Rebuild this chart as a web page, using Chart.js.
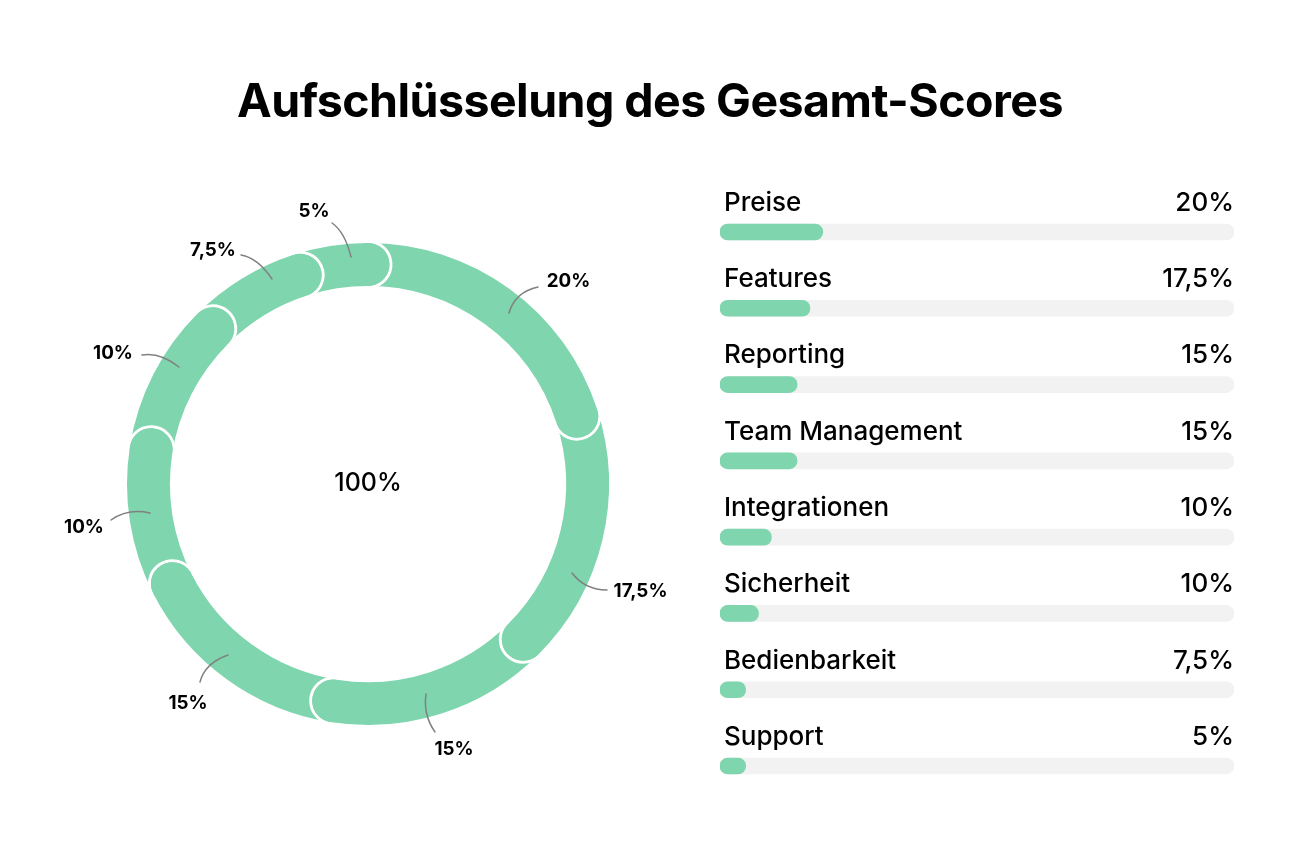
<!DOCTYPE html>
<html lang="de">
<head>
<meta charset="utf-8">
<title>Aufschlüsselung des Gesamt-Scores</title>
<script src="https://cdn.jsdelivr.net/npm/chart.js@4"></script>
<style>
html,body{margin:0;padding:0;background:#fff;width:1300px;height:850px;overflow:hidden}
#wrapRing{position:absolute;left:0;top:0;width:736px;height:850px}
#wrapBars{position:absolute;left:66px;top:0;width:1168px;height:850px}
</style>
</head>
<body>
<div id="wrapRing"><canvas id="ring"></canvas></div>
<div id="wrapBars"><canvas id="bars"></canvas></div>
<script>
const titleText = 'Aufschlüsselung des Gesamt-Scores';
const centerText = '100%';
const categories = ['Preise','Features','Reporting','Team Management','Integrationen','Sicherheit','Bedienbarkeit','Support'];
const ringValues = [20,17.5,15,15,10,10,7.5,5];
const valueLabels = ['20%','17,5%','15%','15%','10%','10%','7,5%','5%'];
const barValues = [20,17.5,15,15,10,7.5,5,5];
const trackValues = [100,100,100,100,100,100,100,100];

const GREEN = '#7fd5ae', TRACK = '#f2f2f2', INK = '#000000';
const FONT = 'Inter, "Noto Sans", sans-serif';

/* leader-line layout, relative to the ring centre */
const leaderLayout = [
  {label:[200.5,-203], from:[170,-197], ctrl:[147,-192], to:[141,-171]},
  {label:[272.5,107],  from:[239,106],  ctrl:[217,106],  to:[204,89]},
  {label:[86,265],     from:[67,248],   ctrl:[55,231],   to:[58,210]},
  {label:[-180,219],   from:[-168,198], ctrl:[-163,179], to:[-140,171]},
  {label:[-284,43],    from:[-257,36],  ctrl:[-240,24],  to:[-218,29]},
  {label:[-255,-131],  from:[-226,-129],ctrl:[-208,-132],to:[-189,-117]},
  {label:[-155,-234],  from:[-127,-229],ctrl:[-110,-226],to:[-96,-205]},
  {label:[-54,-273],   from:[-36,-261], ctrl:[-23,-252], to:[-17,-227]}
];

const ringCaps = {
  id:'ringCaps',
  afterDatasetsDraw(chart){
    const ctx = chart.ctx;
    const arcs = chart.getDatasetMeta(0).data;
    arcs.forEach(a=>{
      const p = a.getProps(['x','y','endAngle','innerRadius','outerRadius'],true);
      const mid = (p.innerRadius+p.outerRadius)/2, rad = (p.outerRadius-p.innerRadius)/2;
      const cx = p.x+mid*Math.cos(p.endAngle), cy = p.y+mid*Math.sin(p.endAngle);
      ctx.save();
      ctx.beginPath();
      ctx.arc(cx,cy,rad+1.5,p.endAngle-0.1,p.endAngle+Math.PI+0.1);
      ctx.strokeStyle='#ffffff';ctx.lineWidth=3;ctx.stroke();
      ctx.beginPath();
      ctx.arc(cx,cy,rad,0,Math.PI*2);
      ctx.fillStyle=GREEN;ctx.fill();
      ctx.restore();
    });
  }
};

const ringLabels = {
  id:'ringLabels',
  afterDraw(chart){
    const ctx = chart.ctx;
    const arcs = chart.getDatasetMeta(0).data;
    const x0 = arcs[0].x, y0 = arcs[0].y;
    ctx.save();
    ctx.lineCap='round';
    leaderLayout.forEach((l,i)=>{
      ctx.beginPath();
      ctx.moveTo(x0+l.from[0],y0+l.from[1]);
      ctx.quadraticCurveTo(x0+l.ctrl[0],y0+l.ctrl[1],x0+l.to[0],y0+l.to[1]);
      ctx.strokeStyle='#808080';ctx.lineWidth=1.5;ctx.stroke();
      ctx.font='700 18.8px '+FONT;
      ctx.fillStyle=INK;ctx.textAlign='center';ctx.textBaseline='middle';
      ctx.fillText(valueLabels[i],x0+l.label[0],y0+l.label[1]);
    });
    ctx.font='500 25px '+FONT;
    ctx.fillStyle=INK;ctx.textAlign='center';ctx.textBaseline='middle';
    ctx.fillText(centerText,x0,y0-1);
    ctx.restore();
  }
};

const barLabels = {
  id:'barLabels',
  afterDatasetsDraw(chart){
    const ctx = chart.ctx;
    const xs = chart.scales.x, ys = chart.scales.y;
    ctx.save();
    ctx.font='500 26px '+FONT;
    ctx.fillStyle=INK;ctx.textBaseline='middle';
    categories.forEach((c,i)=>{
      const y = ys.getPixelForValue(i)-29;
      ctx.textAlign='left';
      ctx.fillText(c,xs.left+4,y);
      ctx.textAlign='right';
      ctx.fillText(valueLabels[i],xs.right,y);
    });
    ctx.restore();
  }
};

const titleSpacing = {
  id:'titleSpacing',
  beforeDraw(chart){ chart.ctx.letterSpacing='-0.55px'; },
  beforeDatasetsDraw(chart){ chart.ctx.letterSpacing='0px'; }
};

Chart.defaults.font.family = FONT;

new Chart(document.getElementById('ring'),{
  type:'doughnut',
  data:{labels:categories,datasets:[{data:ringValues,backgroundColor:GREEN,borderWidth:0,hoverOffset:0}]},
  options:{
    responsive:true,maintainAspectRatio:false,animation:false,
    cutout:'82.2%',rotation:0,
    layout:{padding:{top:243,bottom:125,left:0,right:0}},
    plugins:{legend:{display:false},tooltip:{enabled:false}}
  },
  plugins:[ringCaps,ringLabels]
});

new Chart(document.getElementById('bars'),{
  type:'bar',
  data:{labels:categories,datasets:[
    {data:barValues,backgroundColor:GREEN,borderRadius:8,borderSkipped:false,barThickness:16,grouped:false,order:0},
    {data:trackValues,backgroundColor:TRACK,borderRadius:8,borderSkipped:false,barThickness:16,grouped:false,order:1}
  ]},
  options:{
    indexAxis:'y',responsive:true,maintainAspectRatio:false,animation:false,
    layout:{padding:{top:0,bottom:45.85,left:0,right:0}},
    scales:{
      x:{min:0,max:100,display:false},
      y:{display:true,grid:{display:false},border:{display:false},ticks:{display:false},
         afterFit(s){s.width=654;}}
    },
    plugins:{
      legend:{display:false},tooltip:{enabled:false},
      title:{display:true,text:titleText,color:INK,align:'center',
        font:{family:FONT,size:46.5,weight:700,lineHeight:1.2},
        padding:{top:75,bottom:63.05}}
    }
  },
  plugins:[titleSpacing,barLabels]
});
</script>
</body>
</html>
